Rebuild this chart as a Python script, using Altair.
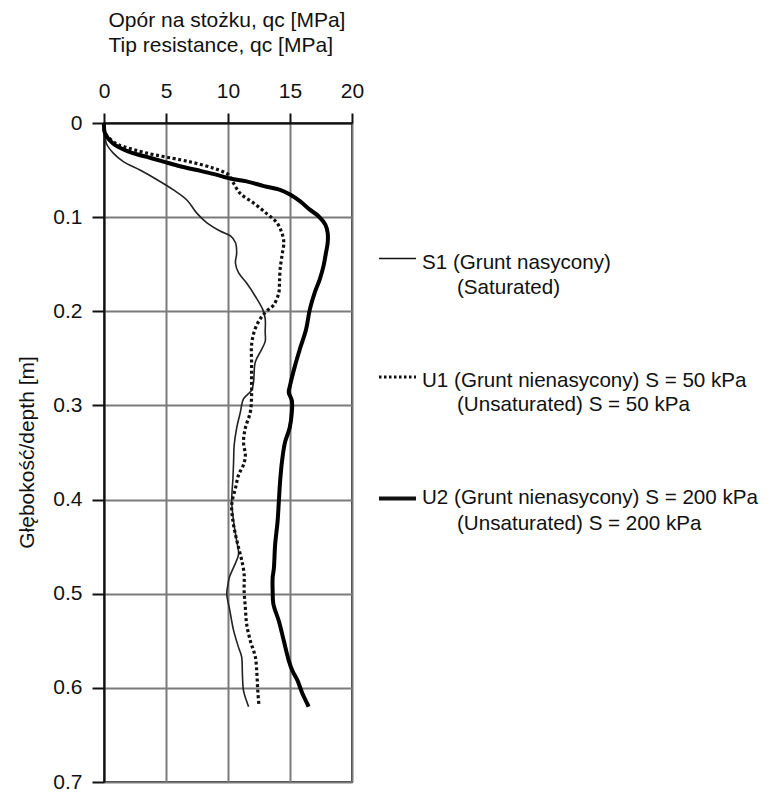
import altair as alt
import pandas as pd

# ---- data ----
s1_depth = [0, 0.011, 0.022, 0.032, 0.041, 0.050, 0.060, 0.071, 0.082, 0.096, 0.106, 0.115,
            0.120, 0.127, 0.138, 0.149, 0.159, 0.170, 0.184, 0.198, 0.208, 0.222, 0.232, 0.242,
            0.254, 0.275, 0.284, 0.293, 0.307, 0.324, 0.342, 0.360, 0.377, 0.402, 0.423, 0.444,
            0.458, 0.472, 0.483, 0.490, 0.500, 0.518, 0.539, 0.557, 0.567, 0.585, 0.603, 0.613, 0.620]
s1_qc = [0, 0.05, 0.2, 0.75, 1.56, 2.9, 4.25, 5.6, 6.7, 7.5, 8.3, 9.4,
         10.2, 10.6, 10.7, 10.6, 10.85, 11.5, 12.2, 12.8, 13.0, 13.0, 13.0, 12.65,
         12.2, 12.06, 11.9, 11.25, 11.0, 10.7, 10.5, 10.45, 10.4, 10.3, 10.45, 10.7,
         10.85, 10.45, 10.1, 10.0, 9.9, 10.15, 10.45, 10.85, 11.1, 11.16, 11.25, 11.47, 11.66]

u1_depth = [0, 0.011, 0.022, 0.025, 0.032, 0.039, 0.043, 0.048, 0.052, 0.055, 0.064, 0.075,
            0.085, 0.096, 0.106, 0.117, 0.127, 0.141, 0.156, 0.170, 0.180, 0.193, 0.200, 0.208,
            0.220, 0.236, 0.254, 0.272, 0.290, 0.307, 0.324, 0.339, 0.353, 0.363, 0.374, 0.388,
            0.405, 0.423, 0.437, 0.451, 0.464, 0.479, 0.497, 0.515, 0.532, 0.550, 0.567, 0.585,
            0.603, 0.619]
u1_qc = [0, 0.1, 1.0, 1.56, 3.45, 6.14, 7.5, 8.83, 9.64, 10.04, 10.45, 11.0,
         12.06, 13.1, 13.95, 14.35, 14.5, 14.35, 14.2, 14.15, 14.1, 13.7, 13.1, 12.6,
         12.15, 11.9, 11.9, 11.9, 11.9, 11.8, 11.4, 11.25, 11.4, 11.25, 10.85, 10.6,
         10.3, 10.4, 10.6, 10.85, 11.1, 11.3, 11.3, 11.4, 11.5, 11.8, 12.2, 12.33,
         12.4, 12.5]

u2_depth = [0, 0.011, 0.022, 0.031, 0.036, 0.041, 0.046, 0.050, 0.054, 0.059, 0.062, 0.067,
            0.071, 0.076, 0.083, 0.092, 0.099, 0.108, 0.117, 0.127, 0.138, 0.152, 0.166, 0.180,
            0.198, 0.219, 0.240, 0.258, 0.279, 0.286, 0.295, 0.307, 0.324, 0.339, 0.360, 0.381,
            0.402, 0.423, 0.448, 0.473, 0.483, 0.497, 0.511, 0.529, 0.550, 0.571, 0.582, 0.592,
            0.606, 0.617, 0.620]
u2_qc = [0, 0.08, 0.75, 2.1, 3.45, 4.8, 6.14, 7.5, 8.8, 10.2, 11.5, 12.9,
         14.2, 15.0, 15.8, 16.6, 17.3, 17.85, 18.04, 18.04, 17.9, 17.7, 17.4, 17.0,
         16.6, 16.3, 15.8, 15.4, 15.0, 14.9, 15.15, 15.15, 14.97, 14.6, 14.35, 14.2,
         14.1, 14.0, 13.8, 13.7, 13.6, 13.6, 13.66, 14.1, 14.5, 14.9, 15.2, 15.6,
         16.0, 16.4, 16.5]

x_ticks = [0, 5, 10, 15, 20]
y_ticks = [0, 0.1, 0.2, 0.3, 0.4, 0.5, 0.6, 0.7]
x_title = ["Opór na stożku, qc [MPa]", "Tip resistance, qc [MPa]"]
y_title = "Głębokość/depth [m]"

legend_line1 = ["S1 (Grunt nasycony)",
                "U1 (Grunt nienasycony) S = 50 kPa",
                "U2 (Grunt nienasycony) S = 200 kPa"]
legend_line2 = ["(Saturated)",
                "(Unsaturated) S = 50 kPa",
                "(Unsaturated) S = 200 kPa"]

FONT = "Liberation Sans"

s1 = pd.DataFrame({"depth": s1_depth, "qc": s1_qc})
u1 = pd.DataFrame({"depth": u1_depth, "qc": u1_qc})
u2 = pd.DataFrame({"depth": u2_depth, "qc": u2_qc})

xenc = alt.X(
    "qc:Q",
    scale=alt.Scale(domain=[0, 20], nice=False),
    axis=alt.Axis(
        orient="top", values=x_ticks, title=x_title,
        titleX=4, titleY=-97, titleAlign="left", titleBaseline="alphabetic",
        titleFontSize=21, titleFontWeight="normal", titleLineHeight=25,
        titleFont=FONT, titleColor="#111",
        labelFontSize=21, labelFont=FONT, labelColor="#111",
        labelBaseline="alphabetic", labelPadding=16, labelFlush=False,
        tickSize=10, tickWidth=2, tickColor="#111",
        domainColor="#111", domainWidth=2,
        grid=True, gridColor="#7a7a7a", gridWidth=2,
    ),
)
yenc = alt.Y(
    "depth:Q",
    scale=alt.Scale(domain=[0, 0.7], reverse=True, nice=False),
    axis=alt.Axis(
        values=y_ticks, title=y_title,
        labelExpr="datum.value == 0 ? '0' : format(datum.value, '.1f')",
        titleAngle=270, titleX=-77, titleY=329, titleAlign="center",
        titleBaseline="middle",
        titleFontSize=21, titleFontWeight="normal", titleFont=FONT, titleColor="#111",
        labelFontSize=21, labelFont=FONT, labelColor="#111",
        labelPadding=10, labelFlush=False,
        tickSize=12, tickWidth=2, tickColor="#111",
        domainColor="#111", domainWidth=2,
        grid=True, gridColor="#7a7a7a", gridWidth=2,
    ),
)

order = alt.Order("depth:Q")

line_s1 = alt.Chart(s1).mark_line(
    color="#222", strokeWidth=1.6, interpolate="catmull-rom"
).encode(x=xenc, y=yenc, order=order)

line_u1 = alt.Chart(u1).mark_line(
    color="#111", strokeWidth=3.2, strokeDash=[3, 2.6], interpolate="catmull-rom"
).encode(x=xenc, y=yenc, order=order)

line_u2 = alt.Chart(u2).mark_line(
    color="#000", strokeWidth=4, interpolate="catmull-rom"
).encode(x=xenc, y=yenc, order=order)

# ---- manual legend (pixel positions relative to plot origin) ----
dummy = pd.DataFrame({"k": [0]})
leg_rows = [
    # (rule y, text1 baseline, text2 baseline, stroke width, dash)
    (135.5, 145.6, 170.6, 1.6, None),
    (254.0, 264.0, 288.0, 3.0, [2.5, 2.5]),
    (375.6, 380.6, 406.6, 4.0, None),
]
legend_layers = []
for i, (ry, t1y, t2y, sw, dash) in enumerate(leg_rows):
    rule_kwargs = dict(color="#111", strokeWidth=sw)
    if dash is not None:
        rule_kwargs["strokeDash"] = dash
    legend_layers.append(
        alt.Chart(dummy).mark_rule(**rule_kwargs).encode(
            x=alt.value(275), x2=alt.value(312), y=alt.value(ry)
        )
    )
    legend_layers.append(
        alt.Chart(dummy).mark_text(
            align="left", baseline="alphabetic", fontSize=20.6, font=FONT, color="#111"
        ).encode(x=alt.value(318), y=alt.value(t1y), text=alt.value(legend_line1[i]))
    )
    legend_layers.append(
        alt.Chart(dummy).mark_text(
            align="left", baseline="alphabetic", fontSize=20.6, font=FONT, color="#111"
        ).encode(x=alt.value(353), y=alt.value(t2y), text=alt.value(legend_line2[i]))
    )

chart = alt.layer(line_s1, line_u1, line_u2, *legend_layers).properties(
    width=248, height=659,
    autosize=alt.AutoSizeParams(type="none"),
    padding={"left": 96, "top": 115, "right": 411, "bottom": 12},
    background="white",
).configure_view(
    stroke="#333", strokeWidth=2
)

chart.save("out.html", embed_options={"renderer": "svg", "actions": False})
